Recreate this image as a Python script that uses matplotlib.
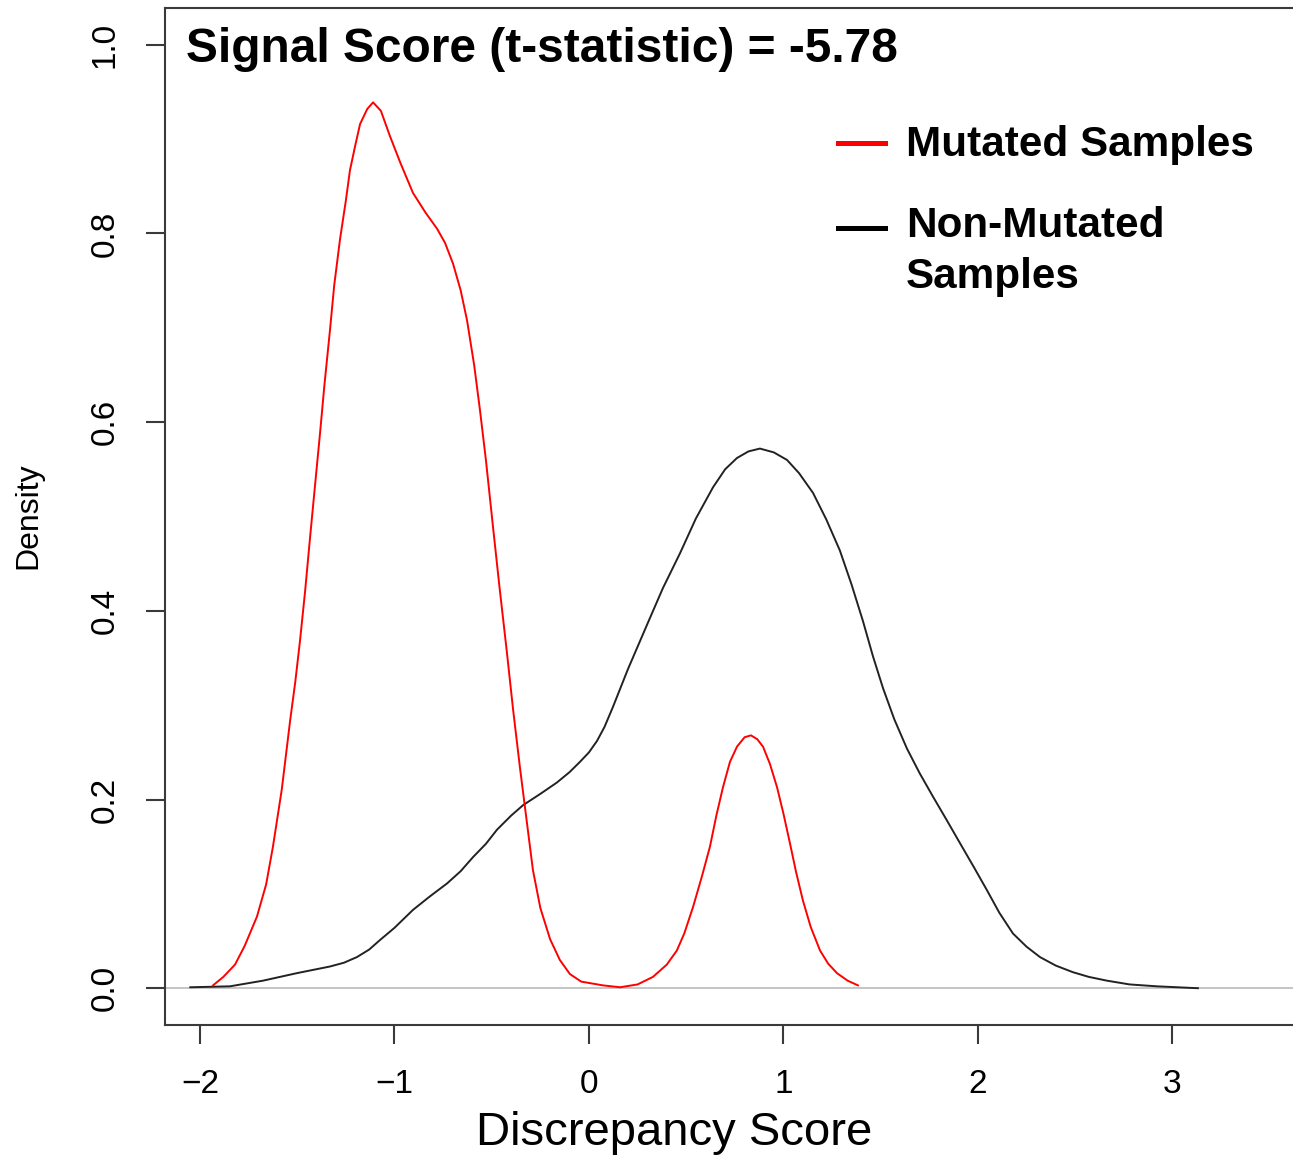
import matplotlib.pyplot as plt
from matplotlib.lines import Line2D

plt.rcParams['font.family'] = ['Liberation Sans', 'DejaVu Sans']

# Density curves
mut_x = [-1.933, -1.88, -1.82, -1.77, -1.707, -1.66, -1.625, -1.58, -1.537, -1.51,
         -1.486, -1.46, -1.434, -1.41, -1.383, -1.36, -1.332, -1.31, -1.28, -1.25,
         -1.229, -1.20, -1.177, -1.14, -1.11, -1.07, -1.023, -0.97, -0.905, -0.84,
         -0.781, -0.74, -0.699, -0.66, -0.627, -0.59, -0.56, -0.53, -0.494, -0.46,
         -0.422, -0.39, -0.355, -0.32, -0.288, -0.25, -0.20, -0.15, -0.098, -0.04,
         0.072, 0.16, 0.25, 0.329, 0.40, 0.452, 0.49, 0.535, 0.58, 0.622,
         0.655, 0.689, 0.725, 0.761, 0.80, 0.833, 0.865, 0.895, 0.93, 0.967,
         1.00, 1.033, 1.065, 1.10, 1.14, 1.188, 1.23, 1.275, 1.33, 1.383]
mut_y = [0.003, 0.012, 0.025, 0.045, 0.076, 0.11, 0.150, 0.21, 0.283, 0.325,
         0.368, 0.42, 0.478, 0.53, 0.588, 0.64, 0.697, 0.745, 0.794, 0.835,
         0.867, 0.895, 0.916, 0.932, 0.939, 0.930, 0.903, 0.875, 0.843, 0.822,
         0.805, 0.790, 0.768, 0.74, 0.708, 0.66, 0.612, 0.56, 0.490, 0.425,
         0.356, 0.295, 0.234, 0.177, 0.125, 0.085, 0.052, 0.030, 0.015, 0.007,
         0.003, 0.001, 0.004, 0.012, 0.025, 0.040, 0.058, 0.086, 0.118, 0.150,
         0.183, 0.213, 0.240, 0.256, 0.266, 0.268, 0.264, 0.256, 0.238, 0.213,
         0.185, 0.154, 0.123, 0.093, 0.065, 0.040, 0.026, 0.016, 0.008, 0.003]

non_x = [-2.05, -1.846, -1.676, -1.501, -1.332, -1.26, -1.193, -1.13, -1.075, -1.0,
         -0.905, -0.82, -0.73, -0.66, -0.596, -0.53, -0.473, -0.40, -0.339, -0.25,
         -0.165, -0.10, -0.046, 0.0, 0.041, 0.08, 0.123, 0.20, 0.298, 0.38,
         0.468, 0.55, 0.638, 0.70, 0.761, 0.82, 0.879, 0.95, 1.018, 1.08,
         1.152, 1.22, 1.29, 1.35, 1.409, 1.46, 1.512, 1.57, 1.635, 1.70,
         1.769, 1.84, 1.907, 1.98, 2.046, 2.11, 2.18, 2.25, 2.319, 2.40,
         2.488, 2.57, 2.663, 2.78, 2.92, 3.131]
non_y = [0.001, 0.002, 0.008, 0.016, 0.023, 0.027, 0.033, 0.041, 0.051, 0.064,
         0.083, 0.097, 0.111, 0.124, 0.139, 0.153, 0.168, 0.183, 0.194, 0.206,
         0.218, 0.229, 0.240, 0.250, 0.262, 0.277, 0.298, 0.338, 0.385, 0.424,
         0.461, 0.498, 0.531, 0.550, 0.562, 0.569, 0.572, 0.568, 0.560, 0.546,
         0.525, 0.497, 0.464, 0.428, 0.389, 0.352, 0.318, 0.285, 0.254, 0.228,
         0.203, 0.178, 0.154, 0.128, 0.104, 0.080, 0.058, 0.044, 0.033, 0.024,
         0.017, 0.012, 0.008, 0.004, 0.002, 0.0]

x_ticks = [-2, -1, 0, 1, 2, 3]
y_ticks = [0.0, 0.2, 0.4, 0.6, 0.8, 1.0]

W, H = 1293, 1157
fig = plt.figure(figsize=(W / 100, H / 100), dpi=100)
ax = fig.add_axes([165 / W, (H - 1025) / H, (W - 165) / W, (1025 - 8) / H])

ax.axhline(0, color='#c0c0c0', lw=1.3, zorder=1)
ax.plot(non_x, non_y, color='#222222', lw=1.4, zorder=2,
        solid_joinstyle='round')
ax.plot(mut_x, mut_y, color='#ff0000', lw=1.4, zorder=3,
        solid_joinstyle='round')

ax.set_xlim(-2.18, 3.62)
ax.set_ylim(-0.039, 1.039)
ax.set_xticks(x_ticks)
ax.set_yticks(y_ticks)
ax.set_yticklabels(['%.1f' % v for v in y_ticks], rotation=90, va='center')

ax.spines['right'].set_visible(False)
for s in ['left', 'bottom', 'top']:
    ax.spines[s].set_color('#3a3a3a')
    ax.spines[s].set_linewidth(1.5)
ax.tick_params(length=14, width=1.5, color='#3a3a3a', labelsize=24, pad=18)

fig.text(186 / W, 1 - 62 / H, 'Signal Score (t-statistic) = -5.78',
         fontsize=34.5, fontweight='bold', ha='left', va='baseline')

# legend drawn by hand
fig.add_artist(Line2D([838 / W, 885 / W], [1 - 143 / H, 1 - 143 / H],
                      color='#ff0000', lw=3.6, transform=fig.transFigure))
fig.add_artist(Line2D([838 / W, 885 / W], [1 - 228 / H, 1 - 228 / H],
                      color='black', lw=3.6, transform=fig.transFigure))
fig.text(906 / W, 1 - 145 / H, 'Mutated Samples', fontsize=30.4,
         fontweight='bold', ha='left', va='center')
fig.text(906 / W, 1 - 226 / H, 'Non-Mutated', fontsize=30.4,
         fontweight='bold', ha='left', va='center')
fig.text(906 / W, 1 - 277 / H, 'Samples', fontsize=30.4,
         fontweight='bold', ha='left', va='center')

fig.text(28 / W, 1 - 516 / H, 'Density', fontsize=23, rotation=90,
         ha='center', va='center')
fig.text(674 / W, 1 - 1133 / H, 'Discrepancy Score', fontsize=34,
         ha='center', va='center')

fig.savefig('out.png', dpi=100)
